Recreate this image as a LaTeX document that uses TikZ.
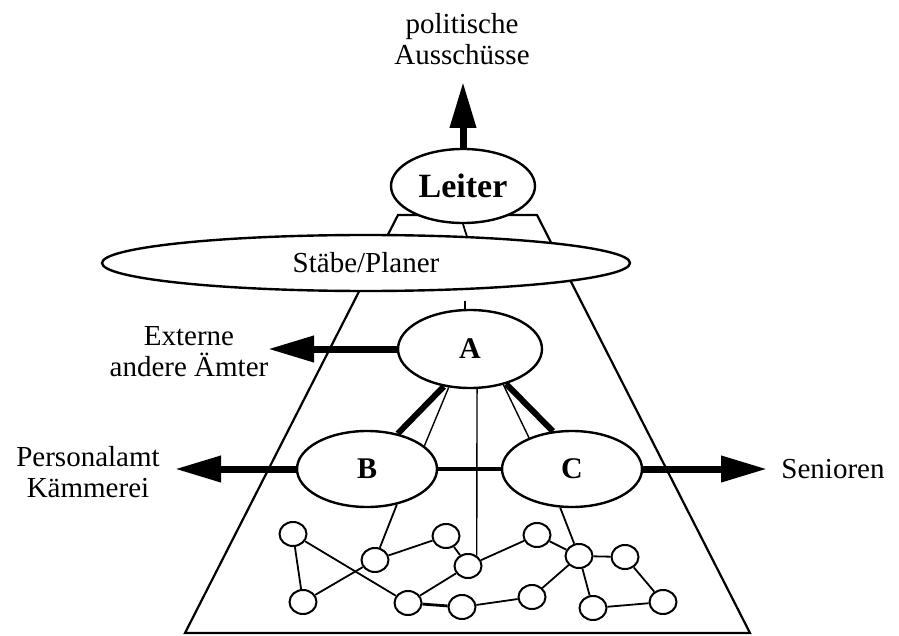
\documentclass[tikz,border=0pt]{standalone}
\usepackage{fontspec}
\setmainfont{Liberation Serif}
\usetikzlibrary{shapes.geometric,arrows.meta}
\begin{document}
\begin{tikzpicture}
    [x=0.5pt,y=-0.5pt,
    font=\fontsize{14.5}{15.5}\selectfont,
    amt/.style={ellipse,draw,line width=1.2pt,fill=white,inner sep=0pt,
      minimum width=70pt,minimum height=38pt,font=\fontsize{15}{16}\selectfont\bfseries},
    punkt/.style={ellipse,draw,line width=1pt,fill=white,inner sep=0pt,
      minimum width=13.5pt,minimum height=12pt},
    pfeil/.style={line width=3.5pt,-{Triangle[length=23pt,width=12.5pt]}},
    dick/.style={line width=3pt},
    duenn/.style={line width=0.7pt},
    netz/.style={line width=0.9pt}]
    \useasboundingbox (0,0) rectangle (899,636);
    \draw[line width=1.1pt] (398,215) -- (537,215) -- (750,633) -- (185,633) -- cycle;
    \node[amt,minimum width=264pt,minimum height=28pt,
      font=\fontsize{14.5}{15.5}\selectfont] (staebe) at (366,263) {Stäbe/Planer};
    \node[amt,minimum width=72pt,minimum height=37pt,
      font=\fontsize{17}{18}\selectfont\bfseries] (leiter) at (463,186) {Leiter};
    \node[amt,minimum width=72pt,minimum height=39pt] (A) at (470,349) {A};
    \node[amt] (B) at (367,469) {B};
    \node[amt] (C) at (572,469) {C};
    \node[align=center] (pol) at (462,39) {politische\\Ausschüsse};
    \node[align=center] (ext) at (189,352) {Externe\\andere Ämter};
    \node[align=center] (pers) at (88,472) {Personalamt\\Kämmerei};
    \node (sen) at (833,469) {Senioren};
    \foreach \n/\x/\y in {1/293/534, 2/375/560, 3/446/536, 4/468/566, 5/537/535,
      6/579/556, 7/625/557, 8/303/602, 9/408/603, 10/462/607, 11/532/597,
      12/593/608, 13/663/602}
      \node[punkt] (n\n) at (\x,\y) {};
    \coordinate (polspitze) at (463,82);
    \coordinate (extspitze) at (268,349);
    \coordinate (persspitze) at (175,469);
    \coordinate (senspitze) at (767,469);
    \coordinate (astub) at (465,301);
    \draw[pfeil] (leiter.north) -- (polspitze);
    \draw[pfeil] (A.west) -- (extspitze);
    \draw[pfeil] (B.west) -- (persspitze);
    \draw[pfeil] (C.east) -- (senspitze);
    \draw[netz] (leiter.south) -- (staebe.15);
    \draw[netz] (A.97) -- (astub);
    \draw[dick] (A.235) -- (B.49);
    \draw[duenn] (A.241) -- (B.22);
    \draw[dick] (A.316) -- (C.117);
    \draw[duenn] (A.313) -- (C.144);
    \draw[duenn] (A.280) -- (n4.50);
    \draw[line width=1.8pt] (B) -- (C);
    \draw[netz] (n2) -- (B.310);
    \draw[netz] (n6) -- (C.253);
    \foreach \a/\b in {1/8, 1/9, 8/2, 2/3, 3/4, 4/9, 4/5, 10/11, 11/6,
      5/6, 6/7, 6/12, 7/13, 12/13}
      \draw[netz] (n\a) -- (n\b);
    \draw[line width=1.4pt] (n9) -- (n10);
\end{tikzpicture}
\end{document}
